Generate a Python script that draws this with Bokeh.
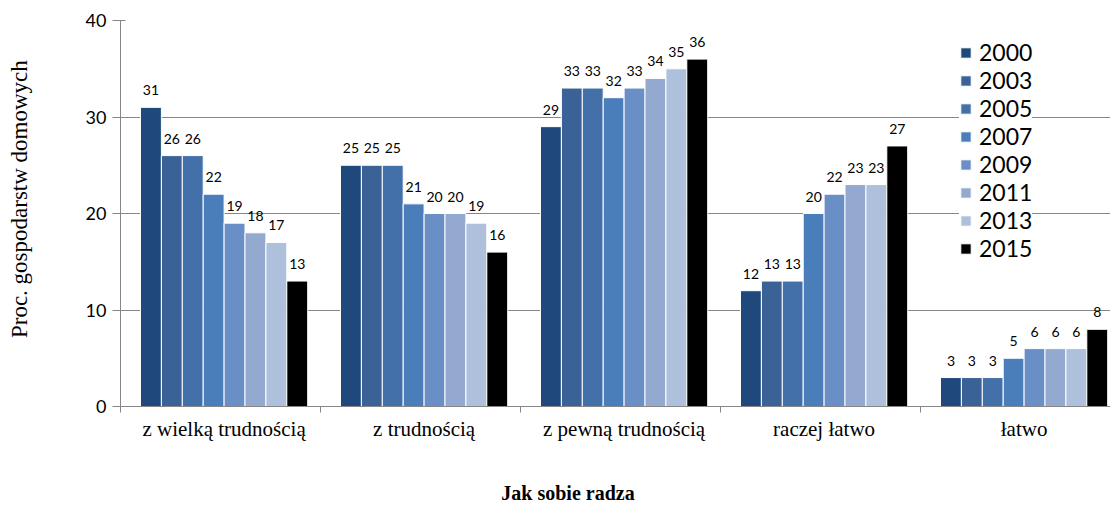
import numpy as np
from bokeh.plotting import figure
from bokeh.models import ColumnDataSource, Range1d, FixedTicker, Legend, LegendItem
from bokeh.core.properties import value
from bokeh.embed import file_html
from bokeh.resources import INLINE

# --- data -----------------------------------------------------------------
categories = ["z wielką trudnością", "z trudnością", "z pewną trudnością", "raczej łatwo", "łatwo"]
years = ["2000", "2003", "2005", "2007", "2009", "2011", "2013", "2015"]

v2000 = [31, 25, 29, 12, 3]
v2003 = [26, 25, 33, 13, 3]
v2005 = [26, 25, 33, 13, 3]
v2007 = [22, 21, 32, 20, 5]
v2009 = [19, 20, 33, 22, 6]
v2011 = [18, 20, 34, 23, 6]
v2013 = [17, 19, 35, 23, 6]
v2015 = [13, 16, 36, 27, 8]

series = [v2000, v2003, v2005, v2007, v2009, v2011, v2013, v2015]
colors = ["#1F497D", "#3B6297", "#4370A9", "#4A7EBB", "#6A8FC6", "#93A9CF", "#AFC0DC", "#000000"]

y_ticks = [0, 10, 20, 30, 40]

y_title = "Proc. gospodarstw domowych"
x_title = "Jak sobie radza"

# --- layout of the grouped bars (in category units) ---------------------
bar_w = 0.1045
group_start = 0.1
idx = np.arange(len(categories), dtype=float)
group_center = group_start + bar_w * len(years) / 2

SANS = "Lato"
GRID = "#868686"
NBSP = "\u00a0"

p = figure(width=1110, height=506,
           x_range=Range1d(0, 4.95), y_range=Range1d(0, 40),
           output_backend="svg", toolbar_location=None,
           min_border_left=120, min_border_right=0,
           min_border_top=20, min_border_bottom=100)

p.outline_line_color = None
p.background_fill_color = "white"
p.border_fill_color = "white"

# grid
p.xgrid.grid_line_color = None
p.ygrid.grid_line_color = GRID
p.ygrid.grid_line_width = 1
p.ygrid.ticker = FixedTicker(ticks=y_ticks)

# y axis
p.yaxis.ticker = FixedTicker(ticks=y_ticks)
p.yaxis.axis_line_color = GRID
p.yaxis.major_tick_line_color = GRID
p.yaxis.major_tick_in = 5
p.yaxis.major_tick_out = 8
p.yaxis.minor_tick_line_color = None
p.yaxis.major_label_text_font = SANS
p.yaxis.major_label_text_font_size = "18px"
p.yaxis.major_label_text_color = "black"
p.yaxis.major_label_standoff = 6
# leading no-break spaces lift the title a little above the frame's middle
p.yaxis.axis_label = NBSP * 5 + y_title
p.yaxis.axis_label_text_font = "Liberation Serif"
p.yaxis.axis_label_text_font_size = "23px"
p.yaxis.axis_label_text_font_style = "normal"
p.yaxis.axis_label_text_color = "black"
p.yaxis.axis_label_standoff = 51

# x axis: labels under each group, tick marks on group boundaries
p.xaxis.ticker = FixedTicker(ticks=list(idx + group_center),
                             minor_ticks=list(range(len(categories) + 1)))
p.xaxis.major_label_overrides = {float(i + group_center): c for i, c in enumerate(categories)}
p.xaxis.axis_line_color = GRID
p.xaxis.major_tick_line_color = None
p.xaxis.minor_tick_line_color = GRID
p.xaxis.minor_tick_in = 0
p.xaxis.minor_tick_out = 6
p.xaxis.major_label_text_font = "Liberation Serif"
p.xaxis.major_label_text_font_size = "21px"
p.xaxis.major_label_text_color = "black"
p.xaxis.major_label_standoff = 4
# trailing no-break spaces move the title left of the frame's middle
p.xaxis.axis_label = x_title + NBSP * 19
p.xaxis.axis_label_text_font = "Liberation Serif"
p.xaxis.axis_label_text_font_size = "20px"
p.xaxis.axis_label_text_font_style = "bold"
p.xaxis.axis_label_text_color = "black"
p.xaxis.axis_label_standoff = 38

renderers = []
for k, (yr, vals, col) in enumerate(zip(years, series, colors)):
    xs = idx + group_start + bar_w * (k + 0.5)
    src = ColumnDataSource(dict(x=xs, top=vals, lab=[str(v) for v in vals]))
    r = p.vbar(x="x", top="top", width=bar_w, bottom=0, source=src,
               fill_color=col, line_color="white", line_width=1)
    renderers.append(r)
    p.text(x="x", y="top", text="lab", source=src,
           text_align="center", text_baseline="alphabetic", y_offset=-17,
           text_font=value(SANS), text_font_size="14px", text_color="black")

# legend: (x, y) is its bottom-left corner, in pixels from the frame's bottom-left
legend = Legend(items=[LegendItem(label=yr, renderers=[r]) for yr, r in zip(years, renderers)],
                location=(839, 144))
legend.label_text_font = SANS
legend.label_text_font_size = "23px"
legend.label_text_color = "black"
legend.glyph_width = 13
legend.glyph_height = 13
legend.label_standoff = 7
legend.label_height = 28
legend.spacing = 0
legend.padding = 8
legend.margin = 0
legend.border_line_color = None
legend.background_fill_color = "white"
legend.background_fill_alpha = 1.0
p.add_layout(legend, "center")

open("out.html", "w").write(file_html(p, INLINE))
